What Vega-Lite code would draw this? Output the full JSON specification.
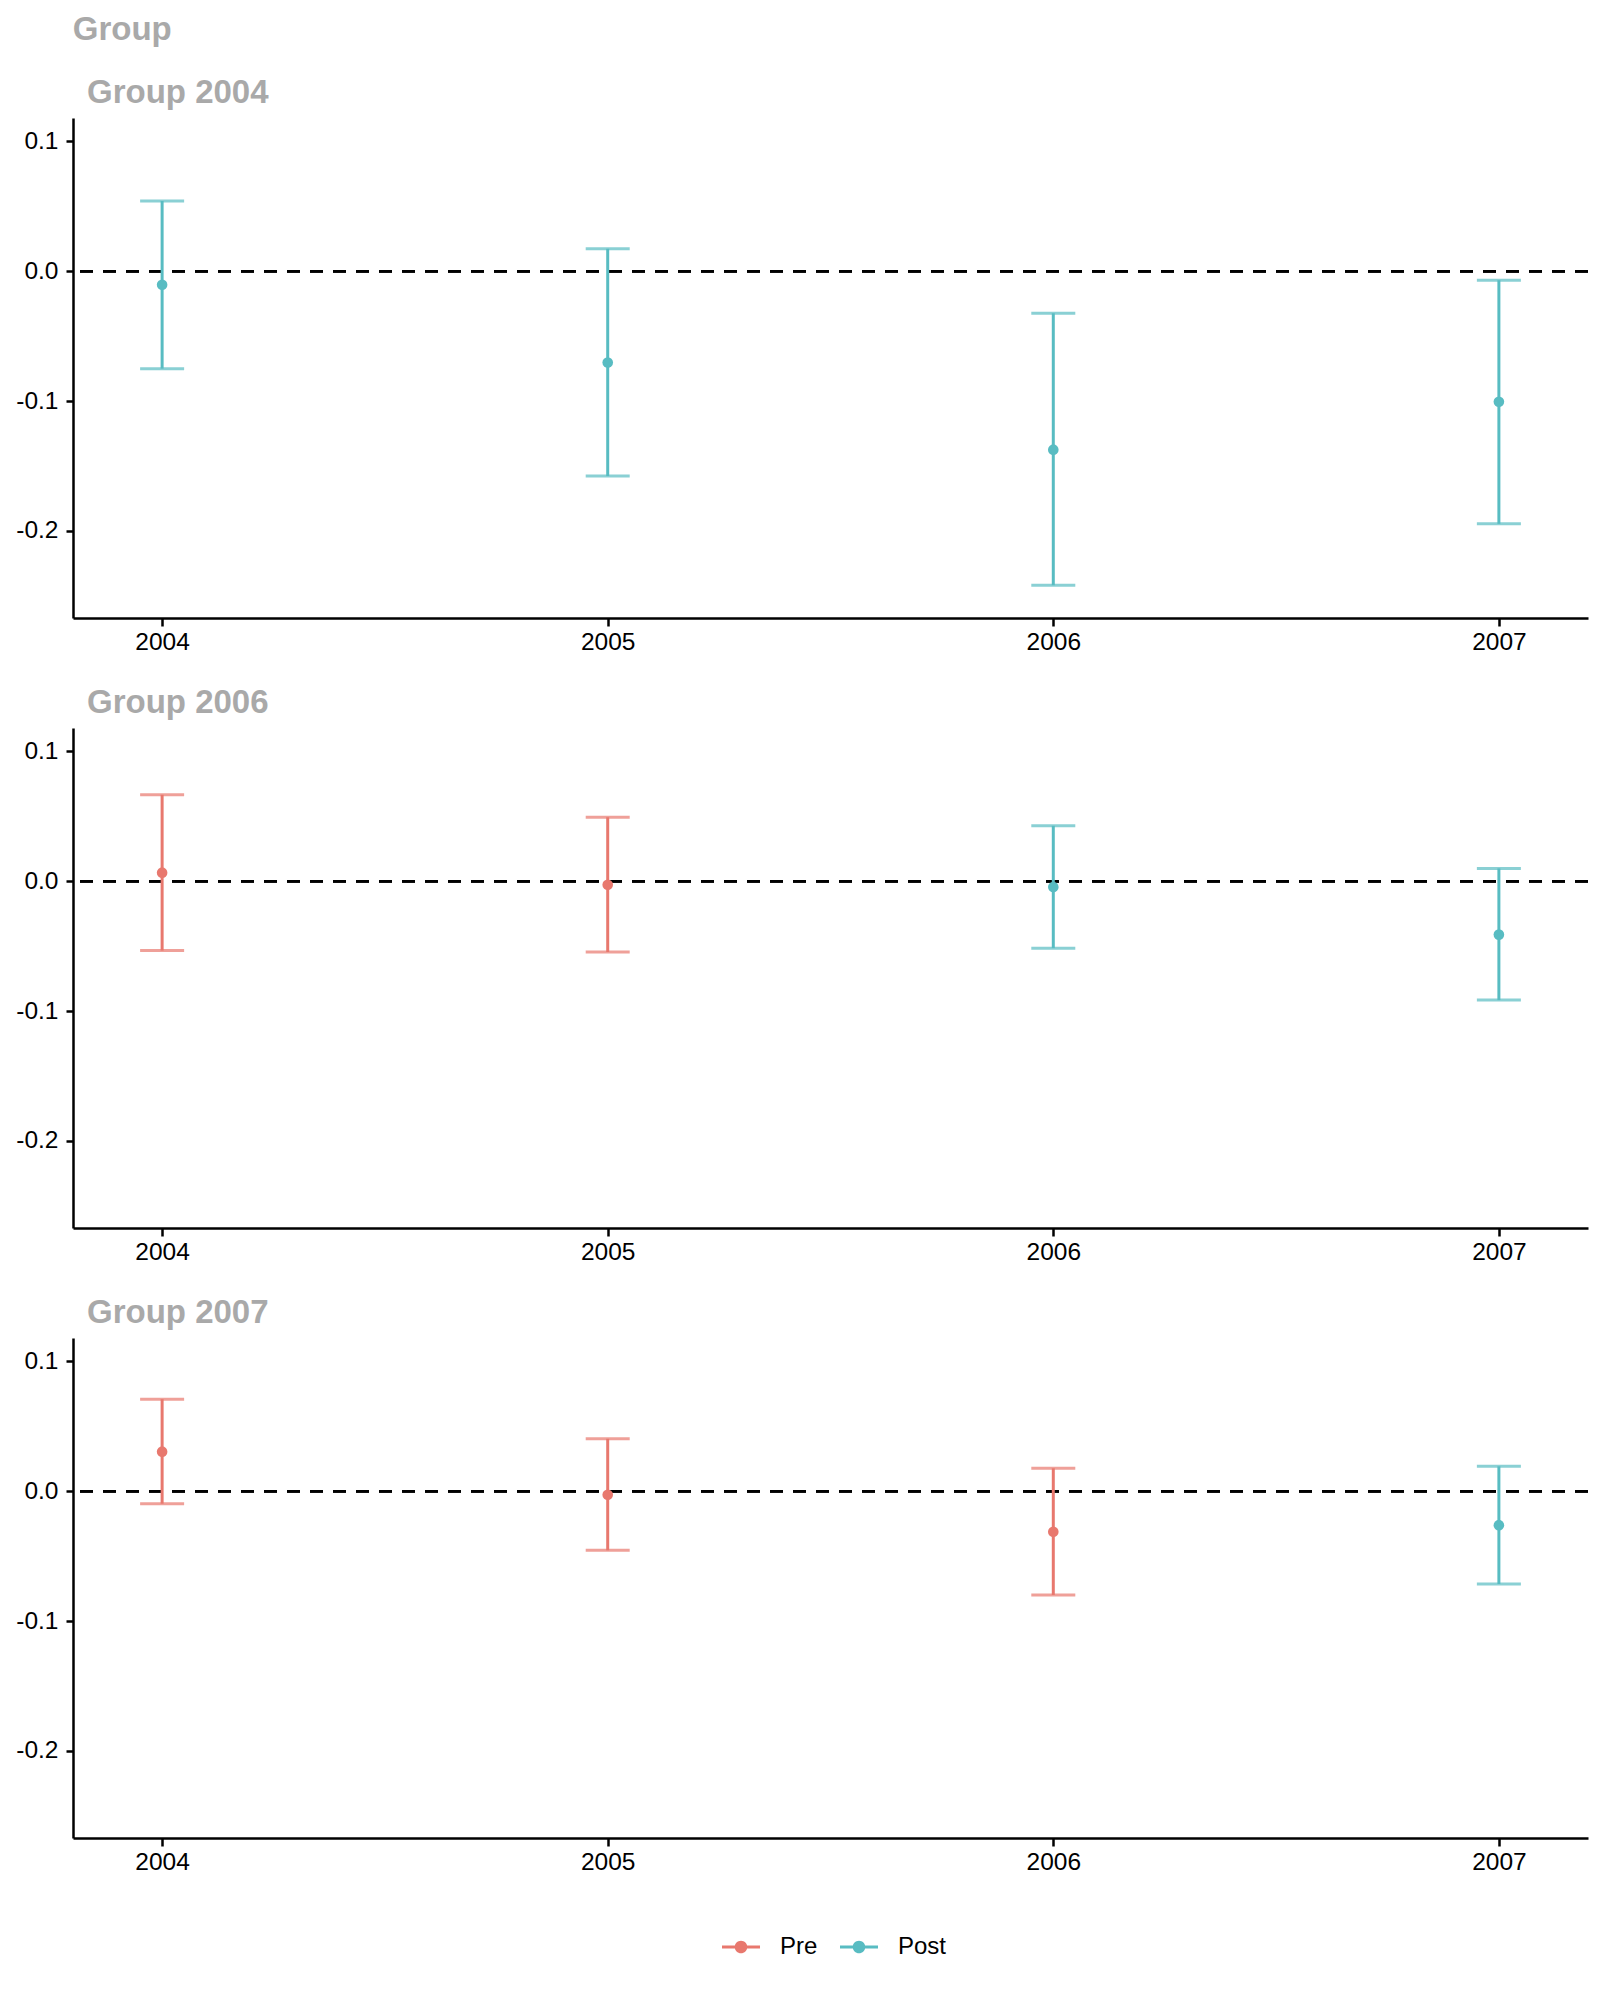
{
  "$schema": "https://vega.github.io/schema/vega-lite/v6.json",
  "background": "white",
  "padding": {"left": 15, "top": 14, "right": 14, "bottom": 10},
  "title": {"text": "Group", "anchor": "start", "frame": "bounds", "dx": 57, "fontSize": 33, "fontWeight": "bold", "color": "#A9A9A9", "font": "Liberation Sans", "baseline": "bottom", "offset": -3},
  "datasets": {
    "est": [
      {"group": "Group 2004", "year": 2004, "period": "Post", "est": -0.0104, "lo": -0.0750, "hi": 0.0541},
      {"group": "Group 2004", "year": 2005, "period": "Post", "est": -0.0703, "lo": -0.1577, "hi": 0.0173},
      {"group": "Group 2004", "year": 2006, "period": "Post", "est": -0.1374, "lo": -0.2418, "hi": -0.0324},
      {"group": "Group 2004", "year": 2007, "period": "Post", "est": -0.1005, "lo": -0.1945, "hi": -0.0069},
      {"group": "Group 2006", "year": 2004, "period": "Pre", "est": 0.0066, "lo": -0.0534, "hi": 0.0666},
      {"group": "Group 2006", "year": 2005, "period": "Pre", "est": -0.0027, "lo": -0.0545, "hi": 0.0493},
      {"group": "Group 2006", "year": 2006, "period": "Post", "est": -0.0044, "lo": -0.0515, "hi": 0.0427},
      {"group": "Group 2006", "year": 2007, "period": "Post", "est": -0.0411, "lo": -0.0915, "hi": 0.0099},
      {"group": "Group 2007", "year": 2004, "period": "Pre", "est": 0.0305, "lo": -0.0096, "hi": 0.0709},
      {"group": "Group 2007", "year": 2005, "period": "Pre", "est": -0.0027, "lo": -0.0455, "hi": 0.0404},
      {"group": "Group 2007", "year": 2006, "period": "Pre", "est": -0.0312, "lo": -0.0799, "hi": 0.0177},
      {"group": "Group 2007", "year": 2007, "period": "Post", "est": -0.0261, "lo": -0.0714, "hi": 0.0192}
    ]
  },
  "config": {
    "view": {"stroke": null},
    "font": "Liberation Sans",
    "axis": {
      "grid": false, "domainColor": "black", "domainWidth": 2.5, "tickColor": "black", "tickWidth": 2.5,
      "labelFont": "Liberation Sans", "labelFontSize": 24.5, "labelColor": "black"
    },
    "axisX": {"tickSize": 8, "labelPadding": 4},
    "axisY": {"tickSize": 7, "labelPadding": 8},
    "concat": {"spacing": 33}
  },
  "spacing": 33,
  "vconcat": [
    {
      "width": 1515, "height": 500,
      "title": {"text": "Group 2004", "anchor": "start", "frame": "group", "dx": 14, "fontSize": 33, "fontWeight": "bold", "color": "#A9A9A9", "font": "Liberation Sans", "baseline": "bottom", "offset": -25},
      "transform": [{"filter": "datum.group === 'Group 2004'"}],
      "data": {"name": "est"},
      "layer": [
        {"mark": {"type": "rule", "color": "black", "strokeWidth": 2.5, "strokeDash": [13, 10]}, "encoding": {"y": {"datum": 0, "type": "quantitative"}}},
        {"mark": {"type": "errorbar", "ticks": {"size": 44, "thickness": 3}, "thickness": 3},
         "encoding": {
           "x": {"field": "year", "type": "quantitative", "title": null, "scale": {"domain": [2003.8, 2007.2], "nice": false, "zero": false}, "axis": {"values": [2004, 2005, 2006, 2007], "format": "d"}},
           "y": {"field": "lo", "type": "quantitative", "title": null, "scale": {"domain": [-0.267, 0.118], "nice": false, "zero": false}, "axis": {"values": [-0.2, -0.1, 0, 0.1], "labelExpr": "datum.value < 0 ? '-' + format(-datum.value, '.1f') : format(datum.value, '.1f')"}},
           "y2": {"field": "hi"},
           "color": {"field": "period", "type": "nominal", "scale": {"domain": ["Pre", "Post"], "range": ["#E8786E", "#58BCC2"]}}
         }},
        {"mark": {"type": "point", "filled": true, "size": 113, "opacity": 1},
         "encoding": {
           "x": {"field": "year", "type": "quantitative", "title": null},
           "y": {"field": "est", "type": "quantitative", "title": null},
           "color": {"field": "period", "type": "nominal",
             "legend": {"orient": "none", "legendX": 649, "legendY": 1810, "direction": "horizontal", "title": null,
               "symbolType": "M-1,-0.08H1V0.08H-1Z M-0.33,0A0.33,0.33 0 1,1 0.33,0A0.33,0.33 0 1,1 -0.33,0Z",
               "symbolSize": 1444, "symbolStrokeWidth": 0, "symbolOpacity": 1, "labelFontSize": 24, "labelFont": "Liberation Sans", "labelColor": "black", "labelOffset": 20, "columnPadding": 22,
               "encode": {"symbols": {"update": {"fill": {"scale": "color", "field": "value"}, "stroke": {"value": "transparent"}, "strokeWidth": {"value": 0}, "opacity": {"value": 1}, "fillOpacity": {"value": 1}}}}}}
         }}
      ]
    },
    {
      "width": 1515, "height": 500,
      "title": {"text": "Group 2006", "anchor": "start", "frame": "group", "dx": 14, "fontSize": 33, "fontWeight": "bold", "color": "#A9A9A9", "font": "Liberation Sans", "baseline": "bottom", "offset": -25},
      "transform": [{"filter": "datum.group === 'Group 2006'"}],
      "data": {"name": "est"},
      "layer": [
        {"mark": {"type": "rule", "color": "black", "strokeWidth": 2.5, "strokeDash": [13, 10]}, "encoding": {"y": {"datum": 0, "type": "quantitative"}}},
        {"mark": {"type": "errorbar", "ticks": {"size": 44, "thickness": 3}, "thickness": 3},
         "encoding": {
           "x": {"field": "year", "type": "quantitative", "title": null, "scale": {"domain": [2003.8, 2007.2], "nice": false, "zero": false}, "axis": {"values": [2004, 2005, 2006, 2007], "format": "d"}},
           "y": {"field": "lo", "type": "quantitative", "title": null, "scale": {"domain": [-0.267, 0.118], "nice": false, "zero": false}, "axis": {"values": [-0.2, -0.1, 0, 0.1], "labelExpr": "datum.value < 0 ? '-' + format(-datum.value, '.1f') : format(datum.value, '.1f')"}},
           "y2": {"field": "hi"},
           "color": {"field": "period", "type": "nominal"}
         }},
        {"mark": {"type": "point", "filled": true, "size": 113, "opacity": 1},
         "encoding": {
           "x": {"field": "year", "type": "quantitative", "title": null},
           "y": {"field": "est", "type": "quantitative", "title": null},
           "color": {"field": "period", "type": "nominal"}
         }}
      ]
    },
    {
      "width": 1515, "height": 500,
      "title": {"text": "Group 2007", "anchor": "start", "frame": "group", "dx": 14, "fontSize": 33, "fontWeight": "bold", "color": "#A9A9A9", "font": "Liberation Sans", "baseline": "bottom", "offset": -25},
      "transform": [{"filter": "datum.group === 'Group 2007'"}],
      "data": {"name": "est"},
      "layer": [
        {"mark": {"type": "rule", "color": "black", "strokeWidth": 2.5, "strokeDash": [13, 10]}, "encoding": {"y": {"datum": 0, "type": "quantitative"}}},
        {"mark": {"type": "errorbar", "ticks": {"size": 44, "thickness": 3}, "thickness": 3},
         "encoding": {
           "x": {"field": "year", "type": "quantitative", "title": null, "scale": {"domain": [2003.8, 2007.2], "nice": false, "zero": false}, "axis": {"values": [2004, 2005, 2006, 2007], "format": "d"}},
           "y": {"field": "lo", "type": "quantitative", "title": null, "scale": {"domain": [-0.267, 0.118], "nice": false, "zero": false}, "axis": {"values": [-0.2, -0.1, 0, 0.1], "labelExpr": "datum.value < 0 ? '-' + format(-datum.value, '.1f') : format(datum.value, '.1f')"}},
           "y2": {"field": "hi"},
           "color": {"field": "period", "type": "nominal"}
         }},
        {"mark": {"type": "point", "filled": true, "size": 113, "opacity": 1},
         "encoding": {
           "x": {"field": "year", "type": "quantitative", "title": null},
           "y": {"field": "est", "type": "quantitative", "title": null},
           "color": {"field": "period", "type": "nominal"}
         }}
      ]
    }
  ],
  "resolve": {"scale": {"color": "shared"}}
}
